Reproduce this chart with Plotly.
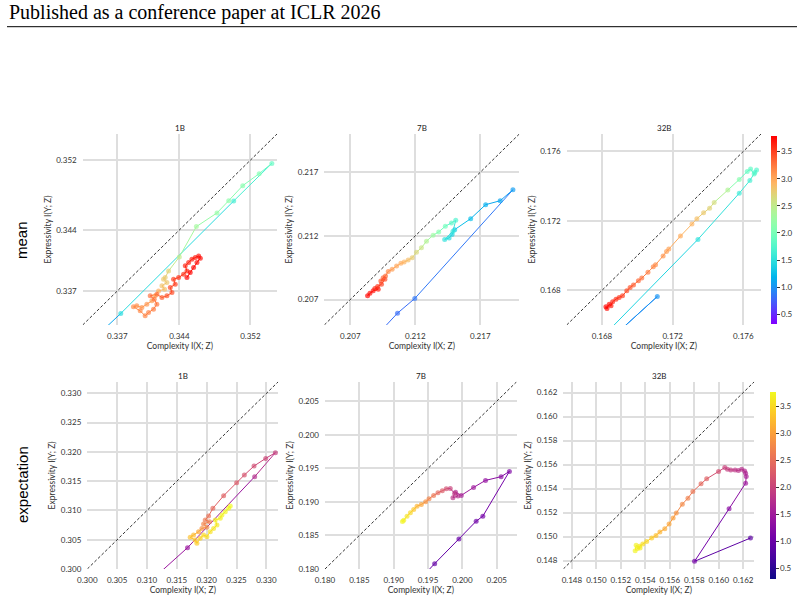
import numpy as np
import plotly.graph_objects as go
from plotly.colors import sequential, hex_to_rgb

# ---------------- data ----------------
# mean / 1B
m1_x = [0.33355, 0.33739, 0.35012, 0.35442, 0.35299, 0.35114, 0.34956, 0.34824, 0.34591, 0.34399,
        0.34278, 0.34240, 0.34221, 0.34259, 0.34203, 0.34233,
        0.34165, 0.34127, 0.34090, 0.34033, 0.33977, 0.33920, 0.33882, 0.33958, 0.34014, 0.34052,
        0.34108, 0.34146, 0.34116, 0.34071, 0.34146,
        0.34203, 0.34259, 0.34316, 0.34297, 0.34353, 0.34334, 0.34391, 0.34447, 0.34485, 0.34466,
        0.34504, 0.34541, 0.34579, 0.34617, 0.34636, 0.34598, 0.34560, 0.34522, 0.34485]
m1_y = [0.33076, 0.33442, 0.34732, 0.35163, 0.35045, 0.34908, 0.34736, 0.34595, 0.34438, 0.34091,
        0.33930, 0.33854, 0.33835, 0.33797, 0.33759, 0.33720,
        0.33701, 0.33644, 0.33587, 0.33549, 0.33511, 0.33530, 0.33518, 0.33472, 0.33415, 0.33453,
        0.33492, 0.33549, 0.33606, 0.33644, 0.33663,
        0.33625, 0.33644, 0.33682, 0.33740, 0.33778, 0.33835, 0.33854, 0.33892, 0.33930, 0.33988,
        0.34026, 0.34064, 0.34083, 0.34102, 0.34076, 0.34026, 0.33969, 0.33911, 0.33854]
m1_c = [1.1, 1.45, 1.65, 1.85, 2.05, 2.1, 2.15, 2.2, 2.3, 2.5,
        2.7, 2.75, 2.78, 2.8, 2.83, 2.86,
        2.95, 3.0, 3.05, 3.08, 3.1, 3.12, 3.14, 3.16, 3.18, 3.2,
        3.22, 3.24, 3.26, 3.28, 3.3,
        3.38, 3.42, 3.45, 3.48, 3.5, 3.52, 3.55, 3.57, 3.6, 3.62,
        3.64, 3.66, 3.68, 3.7, 3.72, 3.73, 3.75, 3.76, 3.77]

# mean / 7B
m7_x = [0.20833, 0.21063, 0.21196, 0.21951, 0.21853, 0.21741, 0.21626, 0.21503, 0.21483, 0.21460,
        0.21426, 0.21490, 0.21511, 0.21478, 0.21431, 0.21380, 0.21337, 0.21286, 0.21247, 0.21209,
        0.21176, 0.21145, 0.21114, 0.21089, 0.21056, 0.21022, 0.20992, 0.20971, 0.20953, 0.20935,
        0.20966, 0.20940, 0.20910, 0.20889, 0.20915, 0.20876, 0.20851, 0.20833]
m7_y = [0.20341, 0.20593, 0.20708, 0.21562, 0.21476, 0.21445, 0.21335, 0.21249, 0.21210, 0.21184,
        0.21171, 0.21236, 0.21322, 0.21302, 0.21276, 0.21231, 0.21205, 0.21158, 0.21106, 0.21072,
        0.21028, 0.21010, 0.20994, 0.20984, 0.20963, 0.20937, 0.20921, 0.20885, 0.20872, 0.20846,
        0.20859, 0.20820, 0.20802, 0.20786, 0.20781, 0.20768, 0.20749, 0.20729]
m7_c = [0.8, 0.8, 0.85, 1.05, 1.1, 1.15, 1.25, 1.35, 1.4, 1.45,
        1.5, 1.55, 1.7, 1.8, 1.95, 2.1, 2.25, 2.4, 2.55, 2.65,
        2.75, 2.85, 2.9, 2.95, 3.0, 3.05, 3.15, 3.3, 3.35, 3.4,
        3.45, 3.5, 3.55, 3.6, 3.65, 3.7, 3.73, 3.76]

# mean / 32B
m32_x = [0.16079, 0.17113, 0.16321, 0.17343, 0.17577, 0.17637, 0.17665, 0.17675, 0.17661, 0.17641,
         0.17622, 0.17577, 0.17512, 0.17435, 0.17409, 0.17375, 0.17337, 0.17309, 0.17244, 0.17178,
         0.17165, 0.17146, 0.17103, 0.17090, 0.17060, 0.17025, 0.17006, 0.16978, 0.16959, 0.16940,
         0.16916, 0.16897, 0.16879, 0.16860, 0.16851, 0.16841, 0.16828, 0.16822]
m32_y = [0.15808, 0.16764, 0.16031, 0.17093, 0.17359, 0.17432, 0.17478, 0.17492, 0.17469, 0.17498,
         0.17484, 0.17438, 0.17377, 0.17306, 0.17273, 0.17246, 0.17212, 0.17181, 0.17112, 0.17037,
         0.17023, 0.16998, 0.16947, 0.16935, 0.16904, 0.16870, 0.16855, 0.16831, 0.16816, 0.16797,
         0.16768, 0.16759, 0.16749, 0.16734, 0.16711, 0.16720, 0.16695, 0.16705]
m32_c = [0.9, 1.0, 1.4, 1.5, 1.6, 1.65, 1.7, 1.75, 1.78, 1.82,
         1.86, 2.1, 2.4, 2.62, 2.7, 2.77, 2.84, 2.9, 2.96, 3.02,
         3.05, 3.09, 3.13, 3.17, 3.22, 3.27, 3.32, 3.37, 3.42, 3.46,
         3.5, 3.54, 3.58, 3.62, 3.66, 3.7, 3.73, 3.76]

# expectation / 1B
e1_x = [0.30806, 0.31679, 0.32804, 0.33151, 0.32989, 0.32793, 0.32631, 0.32502, 0.32284, 0.32104,
        0.32032, 0.31976, 0.32048, 0.31948, 0.32004, 0.31920, 0.31864, 0.31780, 0.31724, 0.31808,
        0.31836, 0.31892, 0.31948, 0.32004, 0.32060, 0.32116, 0.32172, 0.32144, 0.32228, 0.32256,
        0.32312, 0.32367, 0.32395]
e1_y = [0.29562, 0.30364, 0.31577, 0.31987, 0.31890, 0.31759, 0.31605, 0.31474, 0.31252, 0.31036,
        0.30905, 0.30837, 0.30808, 0.30768, 0.30712, 0.30694, 0.30638, 0.30581, 0.30541, 0.30495,
        0.30438, 0.30524, 0.30581, 0.30552, 0.30638, 0.30694, 0.30751, 0.30837, 0.30865, 0.30922,
        0.30979, 0.31036, 0.31076]
e1_c = [1.45, 1.45, 1.75, 1.95, 2.05, 2.12, 2.2, 2.28, 2.36, 2.45,
        2.55, 2.62, 2.68, 2.74, 2.8, 2.86, 3.1, 3.25, 3.3, 3.35,
        3.4, 3.45, 3.5, 3.55, 3.58, 3.62, 3.65, 3.68, 3.7, 3.72,
        3.74, 3.76, 3.78]

# expectation / 7B
e7_x = [0.19185, 0.19596, 0.19949, 0.20200, 0.20297, 0.20684, 0.20563, 0.20336, 0.20162, 0.19983,
        0.19900, 0.19934, 0.19862, 0.19886, 0.19823, 0.19765, 0.19707, 0.19644, 0.19581, 0.19514,
        0.19465, 0.19402, 0.19339, 0.19291, 0.19243, 0.19194, 0.19146, 0.19127]
e7_y = [0.17631, 0.18080, 0.18448, 0.18712, 0.18787, 0.19454, 0.19375, 0.19320, 0.19215, 0.19096,
        0.19145, 0.19086, 0.19061, 0.19125, 0.19200, 0.19195, 0.19165, 0.19135, 0.19096, 0.19046,
        0.19001, 0.18961, 0.18936, 0.18886, 0.18837, 0.18787, 0.18727, 0.18707]
e7_c = [0.95, 0.95, 1.0, 1.05, 1.1, 1.2, 1.3, 1.4, 1.5, 1.6,
        1.7, 1.75, 1.8, 1.85, 2.0, 2.15, 2.3, 2.45, 2.6, 2.75,
        2.9, 3.05, 3.2, 3.35, 3.5, 3.6, 3.7, 3.75]

# expectation / 32B
e32_x = [0.16259, 0.15802, 0.16084, 0.16219, 0.16224, 0.16219, 0.16211, 0.16187, 0.16160, 0.16133,
         0.16098, 0.16071, 0.16049, 0.15998, 0.15901, 0.15855, 0.15788, 0.15748, 0.15702, 0.15653,
         0.15627, 0.15594, 0.15559, 0.15519, 0.15487, 0.15452, 0.15411, 0.15379, 0.15352, 0.15336,
         0.15357, 0.15325, 0.15317]
e32_y = [0.14988, 0.14794, 0.15232, 0.15445, 0.15500, 0.15528, 0.15547, 0.15561, 0.15550, 0.15555,
         0.15555, 0.15561, 0.15575, 0.15542, 0.15481, 0.15439, 0.15375, 0.15320, 0.15270, 0.15196,
         0.15154, 0.15104, 0.15066, 0.15038, 0.15010, 0.14988, 0.14960, 0.14938, 0.14919, 0.14900,
         0.14905, 0.14927, 0.14883]
e32_c = [0.9, 1.1, 1.3, 1.5, 1.6, 1.65, 1.7, 1.75, 1.8, 1.85,
         1.9, 1.95, 2.0, 2.15, 2.35, 2.45, 2.6, 2.7, 2.8, 2.9,
         3.0, 3.05, 3.1, 3.2, 3.3, 3.4, 3.5, 3.55, 3.6, 3.65,
         3.7, 3.72, 3.75]

model_names = ["1B", "7B", "32B"]
row_names = ["mean", "expectation"]
m_ranges = [[0.3331, 0.3550], [0.2050, 0.2200], [0.1660, 0.1770]]
e_ranges = [[0.3000, 0.3320], [0.1800, 0.2079], [0.1473, 0.1629]]
m_ticks = [[0.337, 0.344, 0.352], [0.207, 0.212, 0.217], [0.168, 0.172, 0.176]]
e_ticks = [[0.300, 0.305, 0.310, 0.315, 0.320, 0.325, 0.330],
           [0.180, 0.185, 0.190, 0.195, 0.200, 0.205],
           [0.148, 0.150, 0.152, 0.154, 0.156, 0.158, 0.160, 0.162]]
cbar_ticks = [0.5, 1.0, 1.5, 2.0, 2.5, 3.0, 3.5]
c_min, c_max = 0.31, 3.78

# ---------------- colormaps ----------------
def rainbow_scale(n=33):
    out = []
    for i in range(n):
        t = i / (n - 1)
        r = min(1, abs(2 * t - 0.5))
        g = max(0, np.sin(np.pi * t))
        b = max(0, np.cos(np.pi * t / 2))
        out.append([t, f"rgb({round(r*255)},{round(g*255)},{round(b*255)})"])
    return out

def plasma_scale():
    cols = sequential.Plasma
    n = len(cols)
    return [[i / (n - 1), "rgb(%d,%d,%d)" % hex_to_rgb(c)] for i, c in enumerate(cols)]

def sample(scale, v):
    t = (v - c_min) / (c_max - c_min)
    t = min(1, max(0, t))
    for k in range(len(scale) - 1):
        t0, c0 = scale[k]
        t1, c1 = scale[k + 1]
        if t <= t1:
            a = [float(x) for x in c0[4:-1].split(",")]
            b = [float(x) for x in c1[4:-1].split(",")]
            f = 0 if t1 == t0 else (t - t0) / (t1 - t0)
            return "rgb(%d,%d,%d)" % tuple(round(a[j] + (b[j] - a[j]) * f) for j in range(3))
    return scale[-1][1]

RAINBOW = rainbow_scale()
PLASMA = plasma_scale()

# ---------------- layout geometry (pixels) ----------------
W, H = 804, 602
FONT = "Lato"
def px_x(p): return p / W
def px_y(p): return 1 - p / H

top_dom_y = [px_y(325), px_y(134)]
bot_dom_y = [px_y(569), px_y(381.7)]
top_dom_x = [[82.7, 277], [324.3, 519.3], [566.7, 761]]
bot_dom_x = [[87.3, 278.3], [325, 516.7], [563.3, 754.3]]

panels = [
    (m1_x, m1_y, m1_c, RAINBOW, m_ranges[0], m_ticks[0], top_dom_x[0], top_dom_y, 0),
    (m7_x, m7_y, m7_c, RAINBOW, m_ranges[1], m_ticks[1], top_dom_x[1], top_dom_y, 1),
    (m32_x, m32_y, m32_c, RAINBOW, m_ranges[2], m_ticks[2], top_dom_x[2], top_dom_y, 2),
    (e1_x, e1_y, e1_c, PLASMA, e_ranges[0], e_ticks[0], bot_dom_x[0], bot_dom_y, 0),
    (e7_x, e7_y, e7_c, PLASMA, e_ranges[1], e_ticks[1], bot_dom_x[1], bot_dom_y, 1),
    (e32_x, e32_y, e32_c, PLASMA, e_ranges[2], e_ticks[2], bot_dom_x[2], bot_dom_y, 2),
]

fig = go.Figure()
layout = dict(
    width=W, height=H, margin=dict(l=0, r=0, t=0, b=0, autoexpand=False),
    paper_bgcolor="white", plot_bgcolor="white", showlegend=False,
)
annotations = []

for i, (xs, ys, cs, scale, rng, ticks, dx, dy, col) in enumerate(panels):
    k = i + 1
    xa = "x" if k == 1 else f"x{k}"
    ya = "y" if k == 1 else f"y{k}"
    axis_common = dict(
        range=rng, tickvals=ticks, ticktext=[format(t, ".3f") for t in ticks],
        showgrid=True, gridcolor="#dedede", gridwidth=1.5, zeroline=False,
        showline=False, ticks="", ticklabelstandoff=5, automargin=False,
        tickfont=dict(family=FONT, size=8, color="#333"),
    )
    layout["xaxis" if k == 1 else f"xaxis{k}"] = dict(
        axis_common, domain=[px_x(dx[0]), px_x(dx[1])], anchor=ya,
        title=dict(text="Complexity I(X; Z)", standoff=2,
                   font=dict(family=FONT, size=8.5, color="#333")),
    )
    layout["yaxis" if k == 1 else f"yaxis{k}"] = dict(
        axis_common, domain=dy, anchor=xa,
        title=dict(text="Expressivity I(Y; Z)", standoff=3,
                   font=dict(family=FONT, size=8.5, color="#333")),
    )
    # diagonal y = x
    fig.add_trace(go.Scatter(x=rng, y=rng, mode="lines", xaxis=xa, yaxis=ya,
                             line=dict(color="black", width=0.8, dash="3px,2px"),
                             hoverinfo="skip"))
    # coloured segments
    for j in range(len(xs) - 1):
        fig.add_trace(go.Scatter(x=[xs[j], xs[j + 1]], y=[ys[j], ys[j + 1]], mode="lines",
                                 xaxis=xa, yaxis=ya, hoverinfo="skip",
                                 line=dict(color=sample(scale, cs[j]), width=1.0)))
    # markers
    show_cb = (col == 2)
    cb = None
    if show_cb:
        if scale is RAINBOW:
            cy0, cy1, cx = 136.7, 324.3, 771
        else:
            cy0, cy1, cx = 391.7, 578.3, 770
        cb = dict(x=px_x(cx), xanchor="left", xpad=0, ypad=0,
                  y=px_y((cy0 + cy1) / 2), yanchor="middle",
                  len=cy1 - cy0, lenmode="pixels", thickness=5.5, thicknessmode="pixels",
                  outlinewidth=0, ticks="outside", ticklen=3, tickwidth=0.8, tickcolor="#333",
                  tickvals=cbar_ticks, ticktext=[f"{v:.1f}" for v in cbar_ticks],
                  tickfont=dict(family=FONT, size=8, color="#333"))
    fig.add_trace(go.Scatter(
        x=xs, y=ys, mode="markers", xaxis=xa, yaxis=ya, hoverinfo="skip",
        marker=dict(size=5, color=cs, colorscale=scale, cmin=c_min, cmax=c_max,
                    opacity=0.68, line=dict(width=0), showscale=show_cb,
                    colorbar=cb),
    ))
    # subplot title
    top_px = 134 if i < 3 else 381.7
    annotations.append(dict(text=model_names[col], x=px_x((dx[0] + dx[1]) / 2), y=px_y(top_px - 6),
                            xref="paper", yref="paper", xanchor="center", yanchor="middle",
                            showarrow=False, font=dict(family=FONT, size=8, color="#222")))

# row labels
for name, yc in zip(row_names, [240, 485]):
    annotations.append(dict(text=name, x=px_x(22), y=px_y(yc), xref="paper", yref="paper",
                            xanchor="center", yanchor="middle", textangle=-90, showarrow=False,
                            font=dict(family="Liberation Sans", size=15, color="black")))

# page header
annotations.append(dict(text="Published as a conference paper at ICLR 2026", x=px_x(7), y=px_y(13),
                        xref="paper", yref="paper", xanchor="left", yanchor="middle",
                        showarrow=False, font=dict(family="Liberation Serif", size=20, color="black")))
layout["annotations"] = annotations
layout["shapes"] = [dict(type="line", xref="paper", yref="paper", x0=px_x(7), x1=px_x(797),
                         y0=px_y(26.7), y1=px_y(26.7), line=dict(color="black", width=1))]

fig.update_layout(**layout)
fig.write_html("out.html")
